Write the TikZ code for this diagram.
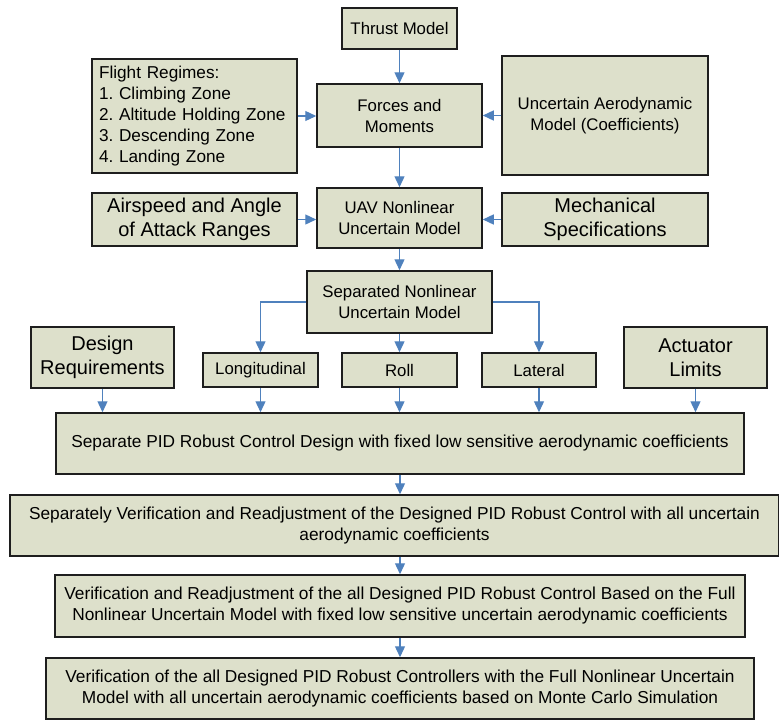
\documentclass[tikz,border=0pt]{standalone}
\usepackage{fontspec}
\setmainfont{Liberation Sans}
\usetikzlibrary{arrows.meta}
\definecolor{boxfill}{HTML}{DDE0CB}
\definecolor{arrowblue}{HTML}{4F81BD}
\definecolor{boxline}{HTML}{1E1E1E}
\frenchspacing
\tikzset{
  box/.style={draw=boxline, line width=1.5pt, fill=boxfill, inner sep=0pt, align=center,
    font=\fontsize{16.8}{21}\selectfont},
  bigtext/.style={font=\fontsize{20}{24}\selectfont},
  widetext/.style={font=\fontsize{17.3}{21}\selectfont},
  conn/.style={draw=arrowblue, line width=1.3pt, -{Triangle[length=11pt,width=10pt]}},
}
\begin{document}
\begin{tikzpicture}[x=1pt,y=-1pt]
\useasboundingbox (0,0) rectangle (779,720);
\node[box, minimum width=115, minimum height=41] (thrust) at (399.5,28.5) {Thrust Model};
\node[box, font=\fontsize{17.2}{21}\selectfont\frenchspacing, minimum width=205, minimum height=114, text width=191, align=left] (flight) at (194.5,116)
  {Flight Regimes:\\1. Climbing Zone\\2. Altitude Holding Zone\\3. Descending Zone\\4. Landing Zone};
\node[box, minimum width=165, minimum height=63] (forces) at (399.5,115.5) {Forces and\\Moments};
\node[box, minimum width=206, minimum height=119] (aero) at (605,115.5) {Uncertain Aerodynamic\\Model (Coefficients)};
\node[box, minimum width=165, minimum height=60] (uav) at (399.5,218) {UAV Nonlinear\\Uncertain Model};
\node[box, bigtext, minimum width=205, minimum height=53] (air) at (194.5,219.5) {Airspeed and Angle\\of Attack Ranges};
\node[box, bigtext, minimum width=206, minimum height=53] (mech) at (605,219.5) {Mechanical\\Specifications};
\node[box, minimum width=185, minimum height=62] (sep) at (399.5,302) {Separated Nonlinear\\Uncertain Model};
\node[box, bigtext, minimum width=143, minimum height=61] (design) at (102.5,357.5) {Design\\Requirements};
\node[box, minimum width=115, minimum height=34] (long) at (260.5,370) {Longitudinal};
\node[box, minimum width=115, minimum height=34] (roll) at (399.5,370) {Roll};
\node[box, minimum width=114, minimum height=34] (lat) at (539,370) {Lateral};
\node[box, bigtext, minimum width=143, minimum height=61] (act) at (695.5,357.5) {Actuator\\Limits};
\node[box, widetext, minimum width=688, minimum height=61] (pid) at (400,443.5)
  {Separate PID Robust Control Design with fixed low sensitive aerodynamic coefficients};
\node[box, widetext, minimum width=769, minimum height=61] (ver1) at (394.5,525.5)
  {Separately Verification and Readjustment of the Designed PID Robust Control with all uncertain\\aerodynamic coefficients};
\node[box, widetext, minimum width=690, minimum height=62] (ver2) at (400,606)
  {Verification and Readjustment of the all Designed PID Robust Control Based on the Full\\Nonlinear Uncertain Model with fixed low sensitive uncertain aerodynamic coefficients};
\node[box, widetext, minimum width=708, minimum height=61] (ver3) at (400,688.5)
  {Verification of the all Designed PID Robust Controllers with the Full Nonlinear Uncertain\\Model with all uncertain aerodynamic coefficients based on Monte Carlo Simulation};
\draw[conn] (thrust) -- (forces);
\draw[conn] (flight.east) -- (flight.east -| forces.west);
\draw[conn] (aero.west) -- (aero.west -| forces.east);
\draw[conn] (forces) -- (uav);
\draw[conn] (air.east) -- (air.east -| uav.west);
\draw[conn] (mech.west) -- (mech.west -| uav.east);
\draw[conn] (uav) -- (sep);
\draw[conn] (sep.west) -| (long.north);
\draw[conn] (sep) -- (roll);
\draw[conn] (sep.east) -| (lat.north);
\draw[conn] (design.south) -- (design.south |- pid.north);
\draw[conn] (long.south) -- (long.south |- pid.north);
\draw[conn] (roll.south) -- (roll.south |- pid.north);
\draw[conn] (lat.south) -- (lat.south |- pid.north);
\draw[conn] (act.south) -- (act.south |- pid.north);
\draw[conn] (pid.south) -- (pid.south |- ver1.north);
\draw[conn] (ver1.south -| pid.south) -- (ver2.north);
\draw[conn] (ver2) -- (ver3);
\end{tikzpicture}
\end{document}
